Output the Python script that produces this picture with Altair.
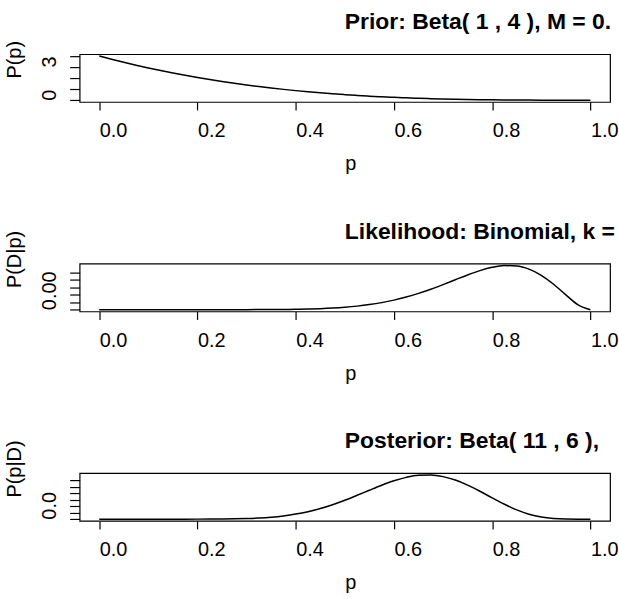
import altair as alt
import pandas as pd

# grid of p values (x axis)
p_vals = [0.0, 0.025, 0.05, 0.075, 0.1, 0.125, 0.15, 0.175, 0.2, 0.225, 0.25,
          0.275, 0.3, 0.325, 0.35, 0.375, 0.4, 0.425, 0.45, 0.475, 0.5,
          0.525, 0.55, 0.575, 0.6, 0.625, 0.65, 0.675, 0.7, 0.725, 0.75,
          0.775, 0.8, 0.825, 0.85, 0.875, 0.9, 0.925, 0.95, 0.975, 1.0]

# Prior density P(p)
prior_vals = [4.0, 3.7074, 3.4295, 3.1658, 2.916, 2.6797, 2.4565, 2.2461, 2.048, 1.8619, 1.6875,
              1.5243, 1.372, 1.2302, 1.0985, 0.9766, 0.864, 0.7604, 0.6655, 0.5788, 0.5,
              0.4287, 0.3645, 0.3071, 0.256, 0.2109, 0.1715, 0.1373, 0.108, 0.0832, 0.0625,
              0.0456, 0.032, 0.0214, 0.0135, 0.0078, 0.004, 0.0017, 0.0005, 0.0001, 0.0]

# Likelihood P(D|p)
lik_vals = [0.0, 0.0, 0.0, 0.0, 0.0, 0.0, 0.0, 0.0, 0.0, 0.0, 0.00004,
            0.0001, 0.0002, 0.0004, 0.0008, 0.0014, 0.0025, 0.0042, 0.0068, 0.0106, 0.0161,
            0.0237, 0.0339, 0.0471, 0.0639, 0.0844, 0.1089, 0.1369, 0.1678, 0.2003, 0.2323,
            0.2612, 0.2835, 0.2952, 0.2924, 0.2713, 0.2301, 0.1703, 0.0988, 0.0320, 0.0]

# Posterior density P(p|D)
post_vals = [0.0, 0.0, 0.0, 0.0, 0.0, 0.0, 0.0001, 0.0005, 0.0016, 0.0045, 0.0109,
             0.0238, 0.0477, 0.0885, 0.1538, 0.252, 0.3918, 0.5806, 0.8234, 1.1205, 1.4663,
             1.8482, 2.2458, 2.632, 2.975, 3.2406, 3.3975, 3.4208, 3.2982, 3.032, 2.6424,
             2.1657, 1.6509, 1.1519, 0.7183, 0.3858, 0.1675, 0.0523, 0.009, 0.0004, 0.0]

x_ticks = [0.0, 0.2, 0.4, 0.6, 0.8, 1.0]

panels = [
    {"y": prior_vals, "ytitle": "P(p)", "ymax": 4.0, "yticks": [0, 1, 2, 3, 4],
     "shown": [0, 3], "fmt": "d",
     "title": "Prior: Beta( 1 , 4 ), M = 0.2"},
    {"y": lik_vals, "ytitle": "P(D|p)", "ymax": 0.296, "yticks": [0, 0.05, 0.1, 0.15, 0.2, 0.25],
     "shown": [0], "fmt": ".2f",
     "title": "Likelihood: Binomial, k = 10, N = 12"},
    {"y": post_vals, "ytitle": "P(p|D)", "ymax": 3.43, "yticks": [0, 0.5, 1, 1.5, 2, 2.5, 3],
     "shown": [0], "fmt": ".1f",
     "title": "Posterior: Beta( 11 , 6 ), M = 0.65"},
]

FONT = "Liberation Sans"
W, H = 533, 48


def make_panel(cfg):
    df = pd.DataFrame({"p": p_vals, "d": cfg["y"]})
    ymax = cfg["ymax"]
    xscale = alt.Scale(domain=[-0.04, 1.04], nice=False, zero=False)
    yscale = alt.Scale(domain=[-0.04 * ymax, 1.04 * ymax], nice=False, zero=False)
    cond = " || ".join(f"datum.value == {v}" for v in cfg["shown"])
    line = alt.Chart(df).mark_line(color="black", strokeWidth=1.5, interpolate="monotone").encode(
        x=alt.X("p:Q", scale=xscale,
                axis=alt.Axis(values=x_ticks, format=".1f", title="p",
                              labelAlign="left", labelBaseline="alphabetic", labelPadding=27,
                              labelFlush=False, labelOverlap=False, tickSize=8,
                              titleX=266.5, titleY=68, titleAlign="left",
                              titleBaseline="alphabetic")),
        y=alt.Y("d:Q", scale=yscale,
                axis=alt.Axis(values=cfg["yticks"], format=cfg["fmt"], title=cfg["ytitle"],
                              labelExpr=f"({cond}) ? datum.label : ''",
                              labelAngle=-90, labelAlign="left", labelBaseline="alphabetic",
                              labelPadding=14, tickSize=10, labelOverlap=False,
                              labelFlush=False,
                              titleAngle=-90, titleX=-59, titleY=24, titleAlign="left",
                              titleBaseline="alphabetic",
                              minExtent=30, maxExtent=30)),
    )
    ttl = alt.Chart(pd.DataFrame({"t": [cfg["title"]]})).mark_text(
        align="left", baseline="alphabetic", font=FONT, fontSize=23, fontWeight="bold",
        color="black", limit=273, ellipsis="\u200b"
    ).encode(x=alt.datum(0.5), y=alt.value(-25), text="t:N")
    return alt.layer(line, ttl).properties(width=W, height=H)


chart = alt.vconcat(*[make_panel(c) for c in panels], spacing=45.5).properties(
    padding={"left": 4, "top": 9, "right": 0, "bottom": 0},
    background="white",
).configure_view(stroke="black", strokeWidth=1.2).configure_axis(
    domain=False, grid=False, tickColor="black", tickWidth=1.2,
    labelFont=FONT, labelFontSize=20, labelColor="black",
    titleFont=FONT, titleFontSize=20, titleFontWeight="normal", titleColor="black",
)

chart.save("out.html", embed_options={"renderer": "svg", "actions": False})
